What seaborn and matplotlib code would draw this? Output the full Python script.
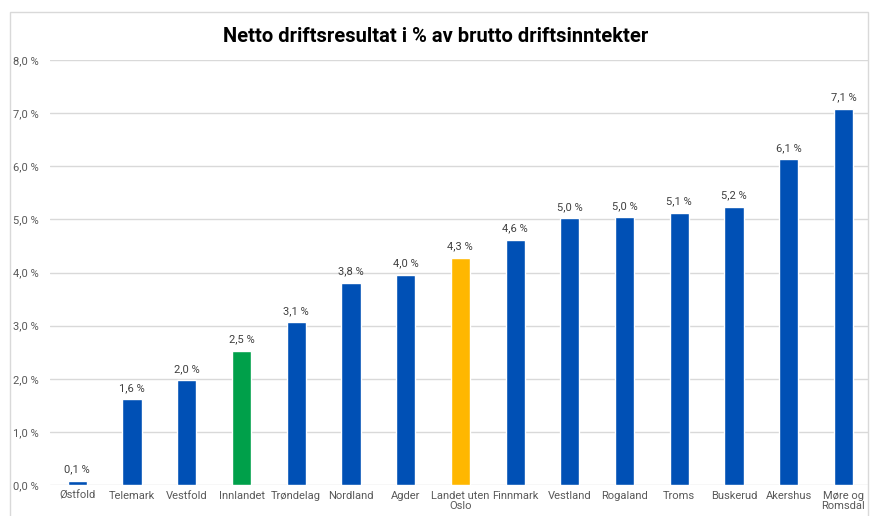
import matplotlib
matplotlib.use("Agg")
import matplotlib.pyplot as plt
import seaborn as sns
import pandas as pd
from matplotlib.patches import Rectangle

# Data
fylker = ["Østfold", "Telemark", "Vestfold", "Innlandet", "Trøndelag", "Nordland",
          "Agder", "Landet uten\nOslo", "Finnmark", "Vestland", "Rogaland", "Troms",
          "Buskerud", "Akershus", "Møre og\nRomsdal"]
verdier = [0.08, 1.61, 1.97, 2.53, 3.06, 3.81, 3.96, 4.28, 4.62, 5.02, 5.04, 5.12,
           5.24, 6.13, 7.08]
gruppe = ["fylke"] * 3 + ["innlandet"] + ["fylke"] * 3 + ["landet"] + ["fylke"] * 7
farger = {"fylke": "#0050B5", "innlandet": "#00A04A", "landet": "#FFB700"}
y_ticks = [0, 1, 2, 3, 4, 5, 6, 7, 8]

df = pd.DataFrame({"fylke": fylker, "verdi": verdier, "gruppe": gruppe})

sns.set_style("white")
plt.rcParams["font.family"] = ["Roboto", "DejaVu Sans"]

fig = plt.figure(figsize=(8.71, 5.16), dpi=100)
W, H = 871, 516
ax = fig.add_axes([50 / W, 1 - 485 / H, (868 - 50) / W, (485 - 60) / H])

sns.barplot(data=df, x="fylke", y="verdi", hue="gruppe", palette=farger,
            width=0.35, dodge=False, legend=False, saturation=1, ax=ax, zorder=3)

ax.set_ylim(0, 8)
ax.set_xlim(-0.5, 14.45)
ax.set_yticks(y_ticks)
ax.set_yticklabels([f"{t:.1f} %".replace(".", ",") for t in y_ticks])
ax.yaxis.grid(True, color="#D9D9D9", linewidth=1, zorder=0)
ax.set_axisbelow(True)
for s in ax.spines.values():
    s.set_visible(False)
ax.set_xlabel("")
ax.set_ylabel("")
ax.tick_params(axis="both", length=0, labelsize=8, colors="#595959", pad=4)
ax.tick_params(axis="y", pad=8)
for lbl in ax.get_xticklabels():
    lbl.set_linespacing(1.05)

for i, v in enumerate(verdier):
    ax.text(i, v + 0.12, f"{v:.1f} %".replace(".", ","), ha="center", va="bottom",
            fontsize=8, color="#404040")

fig.text(0.5, 1 - 36 / H, "Netto driftsresultat i % av brutto driftsinntekter",
         ha="center", va="center", fontsize=14.5, fontweight="bold", color="black")

# chart frame; its bottom edge falls outside the image as in the reference
fig.patches.append(Rectangle((10 / W, -0.01), (868 - 10) / W, 1.01 - 12 / H,
                             transform=fig.transFigure, fill=False,
                             edgecolor="#D9D9D9", linewidth=1))

fig.savefig("out.png", dpi=100)
